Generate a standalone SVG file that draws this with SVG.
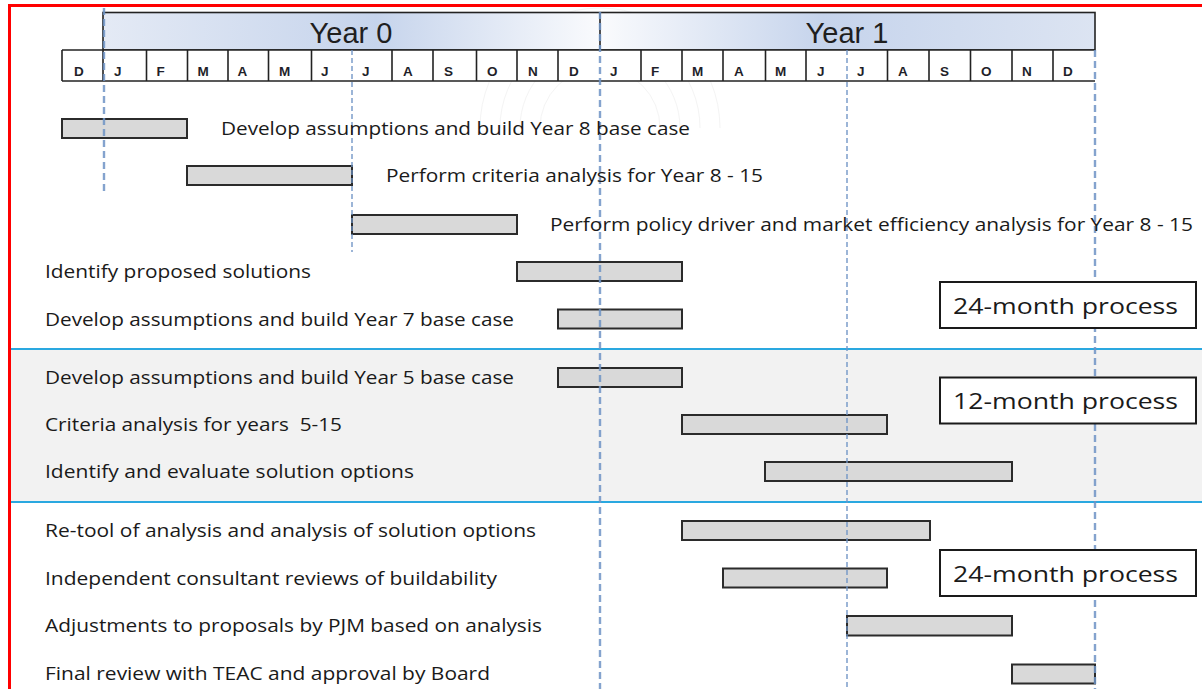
<svg xmlns="http://www.w3.org/2000/svg" width="1202" height="689" viewBox="0 0 1202 689">
  <defs>
    <linearGradient id="yr0" gradientUnits="userSpaceOnUse" x1="103" y1="0" x2="600" y2="0">
      <stop offset="0" stop-color="#e4eaf5"/>
      <stop offset="0.55" stop-color="#c6d4ec"/>
      <stop offset="1" stop-color="#fafbfd"/>
    </linearGradient>
    <linearGradient id="yr1" gradientUnits="userSpaceOnUse" x1="600" y1="0" x2="1095" y2="0">
      <stop offset="0" stop-color="#fafbfd"/>
      <stop offset="0.45" stop-color="#c6d4ec"/>
      <stop offset="1" stop-color="#dce4f2"/>
    </linearGradient>
    <style>
      .bar { fill: #d9d9d9; stroke: #2b2b2b; stroke-width: 2; }
      .task { font-family: "Open Sans", "Liberation Sans", sans-serif; font-size: 18px; fill: #1a1a1a; }
      .mon { font-family: "Liberation Sans", Arial, sans-serif; font-size: 13.5px; font-weight: bold; fill: #1f1f2a; }
      .year { font-family: "Liberation Sans", Arial, sans-serif; font-size: 29px; fill: #1f1f1f; text-anchor: middle; }
      .grid { stroke: #222; stroke-width: 1.6; fill: none; }
      .dash-a { stroke: #6f94c6; stroke-width: 2.4; stroke-dasharray: 7 4; opacity: 0.85; }
      .dash-b { stroke: #6f94c6; stroke-width: 1.6; stroke-dasharray: 5 3; opacity: 0.85; }
      .sep { stroke: #2aa8e0; stroke-width: 2; }
      .note { fill: #ffffff; stroke: #1a1a1a; stroke-width: 2; }
      .note-text { font-family: "Open Sans", "Liberation Sans", sans-serif; font-size: 22.5px; fill: #1a1a1a; }
      .mark { fill: none; stroke: #f4f4f4; stroke-width: 1; }
    </style>
  </defs>

  <!-- page background and shaded middle section -->
  <rect x="0" y="0" width="1202" height="689" fill="#ffffff"/>
  <rect x="10" y="349" width="1192" height="153" fill="#f2f2f2"/>

  <!-- faint background emblem -->
  <g id="emblem">
    <path class="mark" d="M 480 128 A 120 120 0 0 1 720 128"/>
    <path class="mark" d="M 500 128 A 100 100 0 0 1 700 128"/>
    <path class="mark" d="M 520 128 A 80 80 0 0 1 680 128"/>
    <path class="mark" d="M 540 128 A 60 60 0 0 1 660 128"/>
  </g>

  <!-- section separators -->
  <g id="separators">
    <line class="sep" x1="10" y1="349" x2="1202" y2="349"/>
    <line class="sep" x1="10" y1="502" x2="1202" y2="502"/>
  </g>

  <!-- timeline header -->
  <g id="header">
    <rect x="103" y="12.5" width="497" height="37.5" fill="url(#yr0)"/>
    <rect x="600" y="12.5" width="495" height="37.5" fill="url(#yr1)"/>
    <rect class="grid" x="103" y="12.5" width="992" height="37.5" stroke-width="2"/>
    <line class="grid" x1="600" y1="12.5" x2="600" y2="50" stroke-width="2"/>
    <text class="year" x="351" y="42.5">Year 0</text>
    <text class="year" x="847" y="42.5">Year 1</text>

    <rect x="62" y="50" width="1033" height="31" fill="#ffffff"/>
    <line class="grid" x1="62" y1="50" x2="1095" y2="50"/>
    <line class="grid" x1="62" y1="81" x2="1095" y2="81"/>
    <g class="grid">
      <line x1="62" y1="50" x2="62" y2="81"/>
      <line x1="103" y1="50" x2="103" y2="81"/>
      <line x1="146.5" y1="50" x2="146.5" y2="81"/>
      <line x1="187.5" y1="50" x2="187.5" y2="81"/>
      <line x1="228" y1="50" x2="228" y2="81"/>
      <line x1="268.5" y1="50" x2="268.5" y2="81"/>
      <line x1="311.5" y1="50" x2="311.5" y2="81"/>
      <line x1="392" y1="50" x2="392" y2="81"/>
      <line x1="433" y1="50" x2="433" y2="81"/>
      <line x1="476.5" y1="50" x2="476.5" y2="81"/>
      <line x1="517" y1="50" x2="517" y2="81"/>
      <line x1="558" y1="50" x2="558" y2="81"/>
      <line x1="641" y1="50" x2="641" y2="81"/>
      <line x1="682" y1="50" x2="682" y2="81"/>
      <line x1="723" y1="50" x2="723" y2="81"/>
      <line x1="765.5" y1="50" x2="765.5" y2="81"/>
      <line x1="806" y1="50" x2="806" y2="81"/>
      <line x1="887.5" y1="50" x2="887.5" y2="81"/>
      <line x1="929" y1="50" x2="929" y2="81"/>
      <line x1="970.5" y1="50" x2="970.5" y2="81"/>
      <line x1="1012" y1="50" x2="1012" y2="81"/>
      <line x1="1053" y1="50" x2="1053" y2="81"/>
    </g>
    <g class="mon">
      <text x="74" y="76">D</text>
      <text x="114" y="76">J</text>
      <text x="156.5" y="76">F</text>
      <text x="197.5" y="76">M</text>
      <text x="237.5" y="76">A</text>
      <text x="279" y="76">M</text>
      <text x="321" y="76">J</text>
      <text x="362" y="76">J</text>
      <text x="403" y="76">A</text>
      <text x="444" y="76">S</text>
      <text x="487" y="76">O</text>
      <text x="528" y="76">N</text>
      <text x="569" y="76">D</text>
      <text x="610" y="76">J</text>
      <text x="651" y="76">F</text>
      <text x="692" y="76">M</text>
      <text x="734" y="76">A</text>
      <text x="775" y="76">M</text>
      <text x="817" y="76">J</text>
      <text x="857" y="76">J</text>
      <text x="898" y="76">A</text>
      <text x="940" y="76">S</text>
      <text x="981" y="76">O</text>
      <text x="1022" y="76">N</text>
      <text x="1063" y="76">D</text>
    </g>
  </g>

  <!-- task bars -->
  <g id="bars">
    <rect id="bar-y8-base" class="bar" x="62" y="119" width="125" height="19"/>
    <rect id="bar-criteria-8" class="bar" x="187" y="166" width="165" height="19"/>
    <rect id="bar-policy" class="bar" x="352" y="215" width="165" height="19"/>
    <rect id="bar-proposed" class="bar" x="517" y="262" width="165" height="19"/>
    <rect id="bar-y7-base" class="bar" x="558" y="309.5" width="124" height="19"/>
    <rect id="bar-y5-base" class="bar" x="558" y="368" width="124" height="19"/>
    <rect id="bar-criteria-5" class="bar" x="682" y="415" width="205" height="19"/>
    <rect id="bar-evaluate" class="bar" x="765" y="462" width="247" height="19"/>
    <rect id="bar-retool" class="bar" x="682" y="521" width="248" height="19"/>
    <rect id="bar-consultant" class="bar" x="723" y="568.5" width="164" height="19"/>
    <rect id="bar-adjust" class="bar" x="847" y="616" width="165" height="19.5"/>
    <rect id="bar-final" class="bar" x="1012" y="664.5" width="83" height="19"/>
  </g>

  <!-- period guide lines -->
  <g id="guides">
    <line class="dash-a" x1="104" y1="8" x2="104" y2="193"/>
    <line class="dash-b" x1="352" y1="50" x2="352" y2="252"/>
    <line class="dash-a" x1="600" y1="12" x2="600" y2="689"/>
    <line class="dash-b" x1="847" y1="50" x2="847" y2="689"/>
    <line class="dash-a" x1="1095" y1="50" x2="1095" y2="689"/>
  </g>

  <!-- task labels -->
  <g id="labels" class="task">
    <text x="221" y="135" textLength="469" lengthAdjust="spacingAndGlyphs">Develop assumptions and build Year 8 base case</text>
    <text x="386" y="182" textLength="377" lengthAdjust="spacingAndGlyphs">Perform criteria analysis for Year 8 - 15</text>
    <text x="550" y="231" textLength="643" lengthAdjust="spacingAndGlyphs">Perform policy driver and market efficiency analysis for Year 8 - 15</text>
    <text x="45" y="278" textLength="266" lengthAdjust="spacingAndGlyphs">Identify proposed solutions</text>
    <text x="45" y="325.5" textLength="469" lengthAdjust="spacingAndGlyphs">Develop assumptions and build Year 7 base case</text>
    <text x="45" y="384" textLength="469" lengthAdjust="spacingAndGlyphs">Develop assumptions and build Year 5 base case</text>
    <text x="45" y="431" textLength="297" lengthAdjust="spacingAndGlyphs" xml:space="preserve">Criteria analysis for years  5-15</text>
    <text x="45" y="478" textLength="369" lengthAdjust="spacingAndGlyphs">Identify and evaluate solution options</text>
    <text x="45" y="537" textLength="491" lengthAdjust="spacingAndGlyphs">Re-tool of analysis and analysis of solution options</text>
    <text x="45" y="585" textLength="452" lengthAdjust="spacingAndGlyphs">Independent consultant reviews of buildability</text>
    <text x="45" y="632" textLength="497" lengthAdjust="spacingAndGlyphs">Adjustments to proposals by PJM based on analysis</text>
    <text x="45" y="680" textLength="445" lengthAdjust="spacingAndGlyphs">Final review with TEAC and approval by Board</text>
  </g>

  <!-- process duration callouts -->
  <g id="process-24a">
    <rect class="note" x="940" y="282" width="256" height="46"/>
    <text class="note-text" x="953" y="314" textLength="225" lengthAdjust="spacingAndGlyphs">24-month process</text>
  </g>
  <g id="process-12">
    <rect class="note" x="940" y="377.5" width="256" height="46"/>
    <text class="note-text" x="953" y="408.5" textLength="225" lengthAdjust="spacingAndGlyphs">12-month process</text>
  </g>
  <g id="process-24b">
    <rect class="note" x="940" y="550" width="256" height="46"/>
    <text class="note-text" x="953" y="582" textLength="225" lengthAdjust="spacingAndGlyphs">24-month process</text>
  </g>

  <!-- outer frame -->
  <g id="frame">
    <line x1="9.5" y1="5.5" x2="1202" y2="5.5" stroke="#ff0000" stroke-width="3"/>
    <line x1="9.5" y1="4" x2="9.5" y2="689" stroke="#ff0000" stroke-width="3"/>
  </g>
</svg>
